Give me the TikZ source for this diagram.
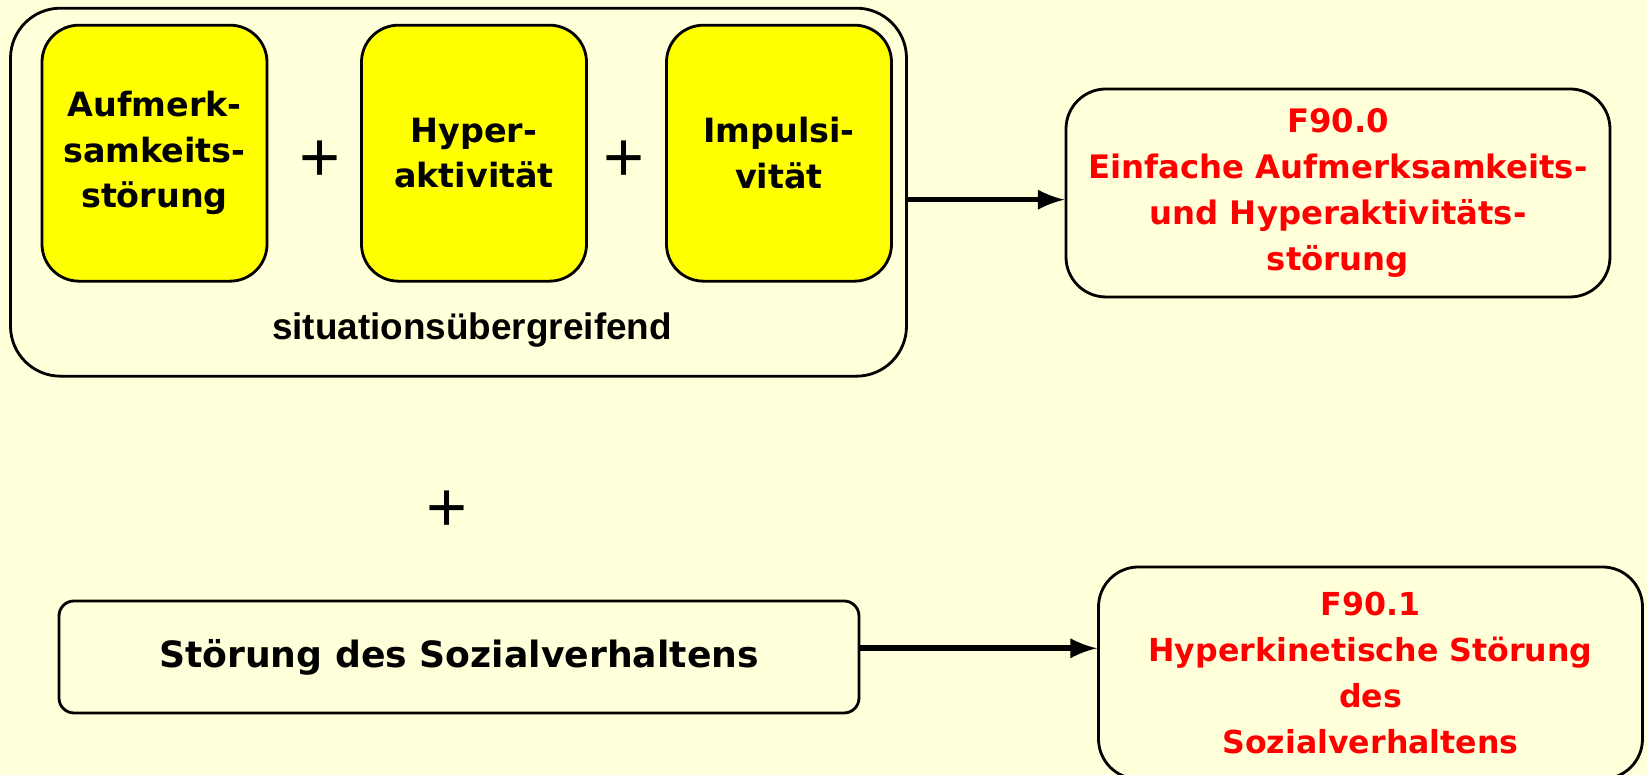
\documentclass[tikz,border=0pt]{standalone}
\usepackage{fontspec}
\setmainfont{DejaVu Sans}
\newfontfamily\arialfont{Liberation Sans}
\definecolor{cream}{RGB}{255,255,217}
\definecolor{symptom}{RGB}{255,255,0}

\begin{document}
\begin{tikzpicture}[
    box/.style={draw, line width=0.8pt, fill=cream, align=center,
      font=\bfseries\fontsize{9.2}{13}\selectfont},
    symp/.style={box, fill=symptom, rounded corners=0.37cm,
      minimum width=2.25cm, minimum height=2.56cm, font=\bfseries\fontsize{9.5}{13}\selectfont},
    diag/.style={box, text=red, rounded corners=0.4cm,
      minimum width=5.44cm},
    plus/.style={font=\arialfont\fontsize{20}{20}\selectfont}
  ]
    \useasboundingbox[fill=cream] (0,0) rectangle (16.47,7.75);
    \node[box, rounded corners=0.5cm, minimum width=8.96cm, minimum height=3.68cm] at (4.585,5.828) (sit) {};
    \node[symp] at (1.545,6.218) (ae) {Aufmerk-\\samkeits-\\störung};
    \node[symp] at (4.74,6.218) (ha) {Hyper-\\aktivität};
    \node[symp] at (7.79,6.218) (im) {Impulsi-\\vität};
    \node[plus] at (3.20,6.14) (p1) {+};
    \node[plus] at (6.24,6.14) (p2) {+};
    \node[font=\arialfont\bfseries\fontsize{10.5}{12}\selectfont] at (4.72,4.45) (su) {situationsübergreifend};
    \node[diag, minimum height=2.08cm] at (13.38,5.82) (f0) {F90.0\\Einfache Aufmerksamkeits-\\und Hyperaktivitäts-\\störung};
    \node[plus] at (4.475,2.64) (p3) {+};
    \node[box, rounded corners=0.15cm, minimum width=8.0cm, minimum height=1.12cm,
      font=\bfseries\fontsize{10.3}{13}\selectfont] at (4.59,1.18) (sv) {Störung des Sozialverhaltens};
    \node[diag, minimum height=2.12cm, font=\bfseries\fontsize{9}{13}\selectfont] at (13.705,1.02) (f1) {F90.1\\Hyperkinetische Störung\\des\\Sozialverhaltens};
    \path[->, line width=1.6pt]
    ([yshift=-0.75mm]sit.east) edge [>=latex] ([yshift=-0.75mm]sit.east -| f0.west)
    ([yshift=0.87mm]sv.east) edge [>=latex] ([yshift=0.87mm]sv.east -| f1.west);
  \end{tikzpicture}
\end{document}
